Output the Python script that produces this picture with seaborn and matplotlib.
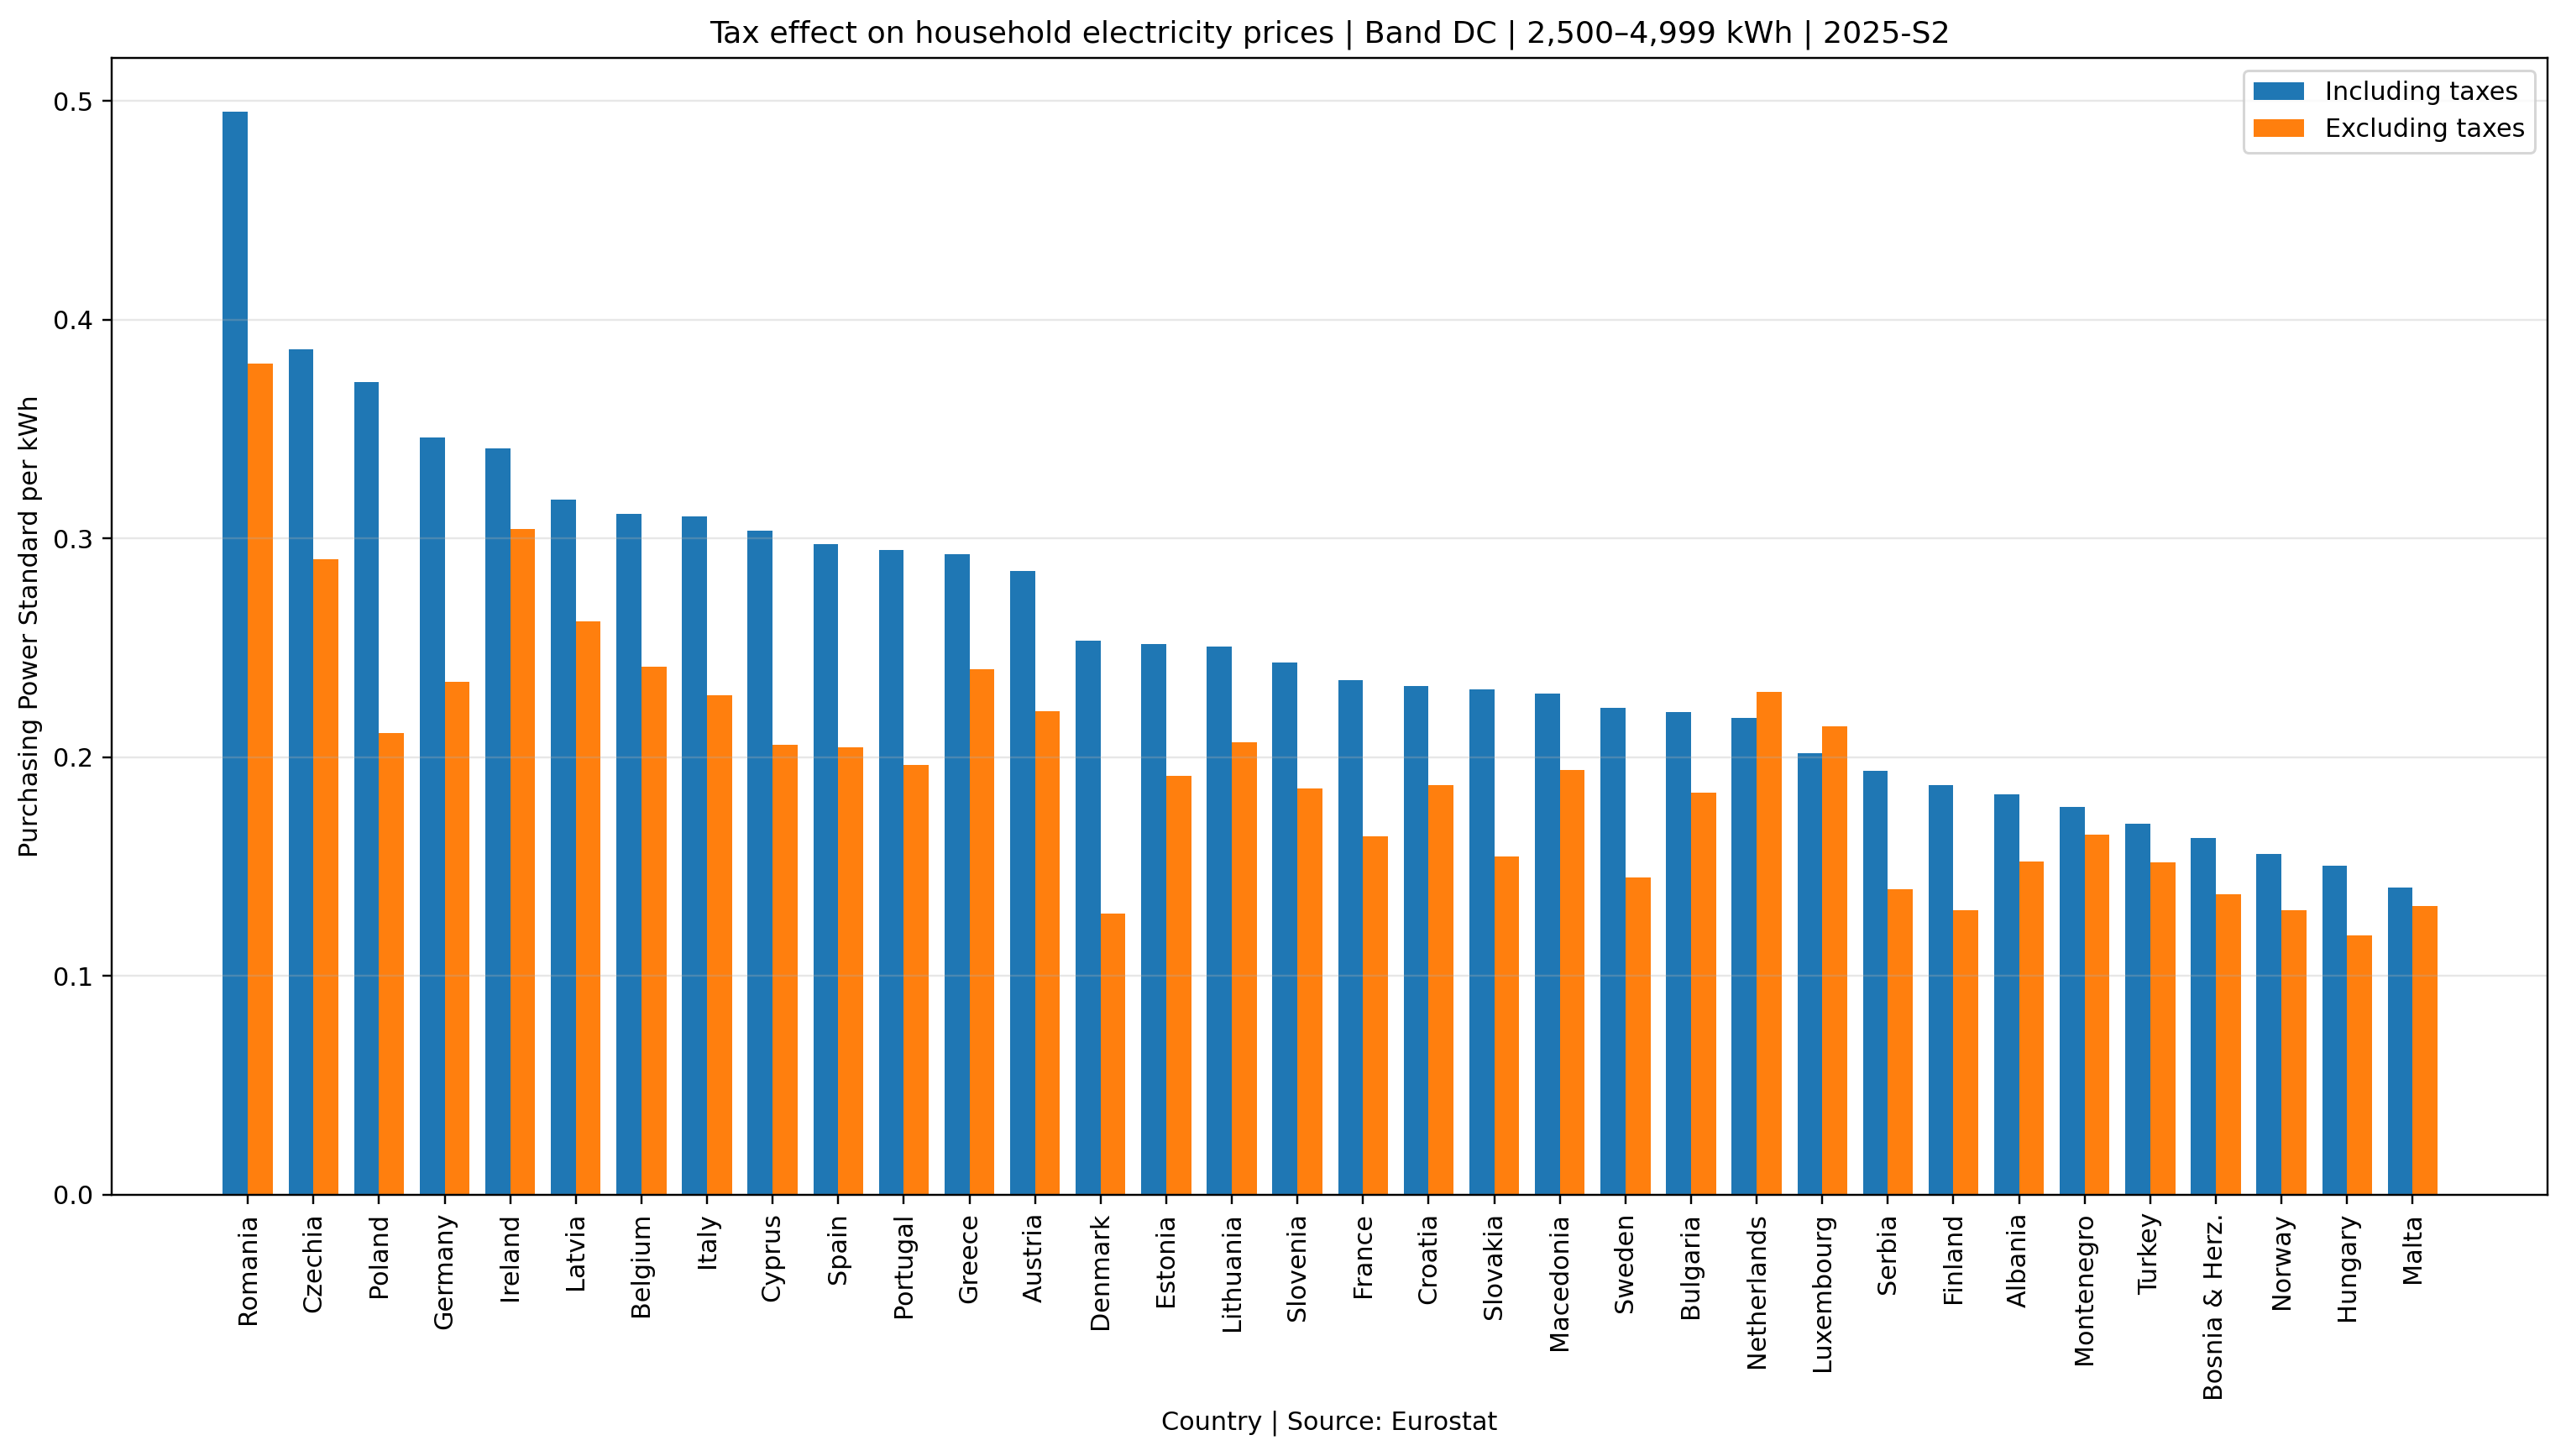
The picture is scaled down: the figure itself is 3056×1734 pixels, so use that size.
import pandas as pd
import seaborn as sns
import matplotlib.pyplot as plt

countries = ["Romania", "Czechia", "Poland", "Germany", "Ireland", "Latvia", "Belgium",
             "Italy", "Cyprus", "Spain", "Portugal", "Greece", "Austria", "Denmark",
             "Estonia", "Lithuania", "Slovenia", "France", "Croatia", "Slovakia",
             "Macedonia", "Sweden", "Bulgaria", "Netherlands", "Luxembourg", "Serbia",
             "Finland", "Albania", "Montenegro", "Turkey", "Bosnia & Herz.", "Norway",
             "Hungary", "Malta"]

incl_taxes = [0.495, 0.3865, 0.3714, 0.3464, 0.3412, 0.3179, 0.3114, 0.3100, 0.3035,
              0.2973, 0.2949, 0.2928, 0.2850, 0.2534, 0.2518, 0.2505, 0.2432, 0.2354,
              0.2327, 0.2310, 0.2291, 0.2227, 0.2208, 0.2181, 0.2017, 0.1936, 0.1873,
              0.1831, 0.1772, 0.1696, 0.1630, 0.1556, 0.1504, 0.1403]

excl_taxes = [0.380, 0.2905, 0.2109, 0.2346, 0.3045, 0.2620, 0.2414, 0.2284, 0.2058,
              0.2047, 0.1965, 0.2403, 0.2211, 0.1287, 0.1916, 0.2070, 0.1857, 0.1638,
              0.1873, 0.1547, 0.1943, 0.1452, 0.1838, 0.2297, 0.2141, 0.1396, 0.1302,
              0.1522, 0.1647, 0.1518, 0.1375, 0.1299, 0.1184, 0.1320]

series_names = ["Including taxes", "Excluding taxes"]
colors = ["#1f77b4", "#ff7f0e"]

df = pd.DataFrame({
    "Country": countries * 2,
    "Value": incl_taxes + excl_taxes,
    "Series": [series_names[0]] * len(countries) + [series_names[1]] * len(countries),
})

dpi = 218
fig = plt.figure(figsize=(3056 / dpi, 1734 / dpi), dpi=dpi)
ax = fig.add_axes([0.0434, 0.1795, 0.9495, 0.7807])

sns.barplot(data=df, x="Country", y="Value", hue="Series", order=countries,
            hue_order=series_names, palette=colors, width=0.76, gap=0,
            saturation=1, errorbar=None, ax=ax)

ax.set_xlim(-2.08, 35.06)
ax.set_title("Tax effect on household electricity prices | Band DC | 2,500\u20134,999 kWh | 2025-S2")
ax.set_xlabel("Country | Source: Eurostat")
ax.set_ylabel("Purchasing Power Standard per kWh")
ax.tick_params(axis="x", labelrotation=90)
ax.grid(axis="y", alpha=0.3)

handles, labels = ax.get_legend_handles_labels()
ax.legend(handles, labels, loc="upper right")

fig.savefig("out.png", dpi=dpi)
